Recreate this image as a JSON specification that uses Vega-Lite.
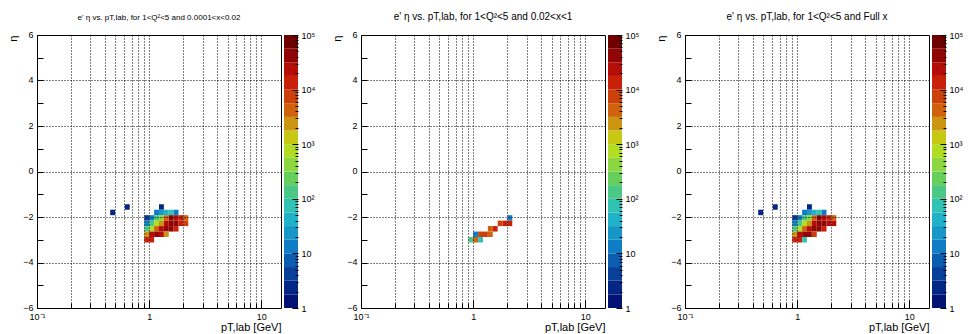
{
  "$schema": "https://vega.github.io/schema/vega-lite/v6.json",
  "background": "white",
  "padding": {"left": 7, "top": 11, "right": 0, "bottom": 0},
  "config": {
    "font": "Liberation Sans",
    "view": {"stroke": "black", "strokeWidth": 1},
    "title": {"font": "Liberation Sans", "fontWeight": "normal", "color": "black", "anchor": "middle", "offset": 8},
    "axis": {"labelFont": "Liberation Sans", "titleFont": "Liberation Sans", "labelColor": "black", "titleColor": "black", "tickColor": "black", "domain": false, "labelFontSize": 9, "titleFontWeight": "normal"}
  },
  "datasets": {
    "cells": [
      {"p":1,"x0":0.4496,"x1":0.4969,"y0":-1.92,"y1":-1.68,"n":2},
      {"p":1,"x0":0.6073,"x1":0.6713,"y0":-1.68,"y1":-1.44,"n":2},
      {"p":1,"x0":1.2247,"x1":1.3539,"y0":-1.68,"y1":-1.44,"n":2},
      {"p":1,"x0":1.1079,"x1":1.2247,"y0":-1.92,"y1":-1.68,"n":14},
      {"p":1,"x0":1.2247,"x1":1.3539,"y0":-1.92,"y1":-1.68,"n":22},
      {"p":1,"x0":1.3539,"x1":1.4966,"y0":-1.92,"y1":-1.68,"n":45},
      {"p":1,"x0":1.4966,"x1":1.6543,"y0":-1.92,"y1":-1.68,"n":70},
      {"p":1,"x0":1.6543,"x1":1.8287,"y0":-1.92,"y1":-1.68,"n":14},
      {"p":1,"x0":0.9067,"x1":1.0023,"y0":-2.16,"y1":-1.92,"n":4},
      {"p":1,"x0":1.0023,"x1":1.1079,"y0":-2.16,"y1":-1.92,"n":12},
      {"p":1,"x0":1.1079,"x1":1.2247,"y0":-2.16,"y1":-1.92,"n":150},
      {"p":1,"x0":1.2247,"x1":1.3539,"y0":-2.16,"y1":-1.92,"n":400},
      {"p":1,"x0":1.3539,"x1":1.4966,"y0":-2.16,"y1":-1.92,"n":4000},
      {"p":1,"x0":1.4966,"x1":1.6543,"y0":-2.16,"y1":-1.92,"n":40000},
      {"p":1,"x0":1.6543,"x1":1.8287,"y0":-2.16,"y1":-1.92,"n":20000},
      {"p":1,"x0":1.8287,"x1":2.0215,"y0":-2.16,"y1":-1.92,"n":12000},
      {"p":1,"x0":2.0215,"x1":2.2345,"y0":-2.16,"y1":-1.92,"n":5000},
      {"p":1,"x0":0.9067,"x1":1.0023,"y0":-2.40,"y1":-2.16,"n":15},
      {"p":1,"x0":1.0023,"x1":1.1079,"y0":-2.40,"y1":-2.16,"n":150},
      {"p":1,"x0":1.1079,"x1":1.2247,"y0":-2.40,"y1":-2.16,"n":600},
      {"p":1,"x0":1.2247,"x1":1.3539,"y0":-2.40,"y1":-2.16,"n":2500},
      {"p":1,"x0":1.3539,"x1":1.4966,"y0":-2.40,"y1":-2.16,"n":20000},
      {"p":1,"x0":1.4966,"x1":1.6543,"y0":-2.40,"y1":-2.16,"n":50000},
      {"p":1,"x0":1.6543,"x1":1.8287,"y0":-2.40,"y1":-2.16,"n":40000},
      {"p":1,"x0":1.8287,"x1":2.0215,"y0":-2.40,"y1":-2.16,"n":15000},
      {"p":1,"x0":2.0215,"x1":2.2345,"y0":-2.40,"y1":-2.16,"n":6000},
      {"p":1,"x0":0.9067,"x1":1.0023,"y0":-2.64,"y1":-2.40,"n":100},
      {"p":1,"x0":1.0023,"x1":1.1079,"y0":-2.64,"y1":-2.40,"n":800},
      {"p":1,"x0":1.1079,"x1":1.2247,"y0":-2.64,"y1":-2.40,"n":4000},
      {"p":1,"x0":1.2247,"x1":1.3539,"y0":-2.64,"y1":-2.40,"n":30000},
      {"p":1,"x0":1.3539,"x1":1.4966,"y0":-2.64,"y1":-2.40,"n":50000},
      {"p":1,"x0":1.4966,"x1":1.6543,"y0":-2.64,"y1":-2.40,"n":40000},
      {"p":1,"x0":1.6543,"x1":1.8287,"y0":-2.64,"y1":-2.40,"n":12000},
      {"p":1,"x0":0.9067,"x1":1.0023,"y0":-2.88,"y1":-2.64,"n":2500},
      {"p":1,"x0":1.0023,"x1":1.1079,"y0":-2.88,"y1":-2.64,"n":30000},
      {"p":1,"x0":1.1079,"x1":1.2247,"y0":-2.88,"y1":-2.64,"n":40000},
      {"p":1,"x0":1.2247,"x1":1.3539,"y0":-2.88,"y1":-2.64,"n":30000},
      {"p":1,"x0":1.3539,"x1":1.4966,"y0":-2.88,"y1":-2.64,"n":2500},
      {"p":1,"x0":0.9067,"x1":1.0023,"y0":-3.12,"y1":-2.88,"n":12000},
      {"p":1,"x0":1.0023,"x1":1.1079,"y0":-3.12,"y1":-2.88,"n":10000},

      {"p":2,"x0":2.0215,"x1":2.2345,"y0":-2.16,"y1":-1.92,"n":15},
      {"p":2,"x0":1.6543,"x1":1.8287,"y0":-2.40,"y1":-2.16,"n":7000},
      {"p":2,"x0":1.8287,"x1":2.0215,"y0":-2.40,"y1":-2.16,"n":15000},
      {"p":2,"x0":2.0215,"x1":2.2345,"y0":-2.40,"y1":-2.16,"n":12000},
      {"p":2,"x0":1.3539,"x1":1.4966,"y0":-2.64,"y1":-2.40,"n":5000},
      {"p":2,"x0":1.4966,"x1":1.6543,"y0":-2.64,"y1":-2.40,"n":12000},
      {"p":2,"x0":1.0023,"x1":1.1079,"y0":-2.88,"y1":-2.64,"n":15},
      {"p":2,"x0":1.1079,"x1":1.2247,"y0":-2.88,"y1":-2.64,"n":6000},
      {"p":2,"x0":1.2247,"x1":1.3539,"y0":-2.88,"y1":-2.64,"n":6000},
      {"p":2,"x0":1.3539,"x1":1.4966,"y0":-2.88,"y1":-2.64,"n":3500},
      {"p":2,"x0":0.9067,"x1":1.0023,"y0":-3.12,"y1":-2.88,"n":150},
      {"p":2,"x0":1.0023,"x1":1.1079,"y0":-3.12,"y1":-2.88,"n":3500},
      {"p":2,"x0":1.1079,"x1":1.2247,"y0":-3.12,"y1":-2.88,"n":60},

      {"p":3,"x0":0.4496,"x1":0.4969,"y0":-1.92,"y1":-1.68,"n":2},
      {"p":3,"x0":0.6073,"x1":0.6713,"y0":-1.68,"y1":-1.44,"n":2},
      {"p":3,"x0":1.2247,"x1":1.3539,"y0":-1.68,"y1":-1.44,"n":2},
      {"p":3,"x0":1.1079,"x1":1.2247,"y0":-1.92,"y1":-1.68,"n":14},
      {"p":3,"x0":1.2247,"x1":1.3539,"y0":-1.92,"y1":-1.68,"n":22},
      {"p":3,"x0":1.3539,"x1":1.4966,"y0":-1.92,"y1":-1.68,"n":45},
      {"p":3,"x0":1.4966,"x1":1.6543,"y0":-1.92,"y1":-1.68,"n":70},
      {"p":3,"x0":1.6543,"x1":1.8287,"y0":-1.92,"y1":-1.68,"n":14},
      {"p":3,"x0":0.9067,"x1":1.0023,"y0":-2.16,"y1":-1.92,"n":4},
      {"p":3,"x0":1.0023,"x1":1.1079,"y0":-2.16,"y1":-1.92,"n":12},
      {"p":3,"x0":1.1079,"x1":1.2247,"y0":-2.16,"y1":-1.92,"n":150},
      {"p":3,"x0":1.2247,"x1":1.3539,"y0":-2.16,"y1":-1.92,"n":400},
      {"p":3,"x0":1.3539,"x1":1.4966,"y0":-2.16,"y1":-1.92,"n":4000},
      {"p":3,"x0":1.4966,"x1":1.6543,"y0":-2.16,"y1":-1.92,"n":40000},
      {"p":3,"x0":1.6543,"x1":1.8287,"y0":-2.16,"y1":-1.92,"n":20000},
      {"p":3,"x0":1.8287,"x1":2.0215,"y0":-2.16,"y1":-1.92,"n":12000},
      {"p":3,"x0":2.0215,"x1":2.2345,"y0":-2.16,"y1":-1.92,"n":5015},
      {"p":3,"x0":0.9067,"x1":1.0023,"y0":-2.40,"y1":-2.16,"n":15},
      {"p":3,"x0":1.0023,"x1":1.1079,"y0":-2.40,"y1":-2.16,"n":150},
      {"p":3,"x0":1.1079,"x1":1.2247,"y0":-2.40,"y1":-2.16,"n":600},
      {"p":3,"x0":1.2247,"x1":1.3539,"y0":-2.40,"y1":-2.16,"n":2500},
      {"p":3,"x0":1.3539,"x1":1.4966,"y0":-2.40,"y1":-2.16,"n":20000},
      {"p":3,"x0":1.4966,"x1":1.6543,"y0":-2.40,"y1":-2.16,"n":50000},
      {"p":3,"x0":1.6543,"x1":1.8287,"y0":-2.40,"y1":-2.16,"n":47000},
      {"p":3,"x0":1.8287,"x1":2.0215,"y0":-2.40,"y1":-2.16,"n":30000},
      {"p":3,"x0":2.0215,"x1":2.2345,"y0":-2.40,"y1":-2.16,"n":18000},
      {"p":3,"x0":0.9067,"x1":1.0023,"y0":-2.64,"y1":-2.40,"n":100},
      {"p":3,"x0":1.0023,"x1":1.1079,"y0":-2.64,"y1":-2.40,"n":800},
      {"p":3,"x0":1.1079,"x1":1.2247,"y0":-2.64,"y1":-2.40,"n":4000},
      {"p":3,"x0":1.2247,"x1":1.3539,"y0":-2.64,"y1":-2.40,"n":30000},
      {"p":3,"x0":1.3539,"x1":1.4966,"y0":-2.64,"y1":-2.40,"n":55000},
      {"p":3,"x0":1.4966,"x1":1.6543,"y0":-2.64,"y1":-2.40,"n":52000},
      {"p":3,"x0":1.6543,"x1":1.8287,"y0":-2.64,"y1":-2.40,"n":12000},
      {"p":3,"x0":0.9067,"x1":1.0023,"y0":-2.88,"y1":-2.64,"n":2500},
      {"p":3,"x0":1.0023,"x1":1.1079,"y0":-2.88,"y1":-2.64,"n":30015},
      {"p":3,"x0":1.1079,"x1":1.2247,"y0":-2.88,"y1":-2.64,"n":46000},
      {"p":3,"x0":1.2247,"x1":1.3539,"y0":-2.88,"y1":-2.64,"n":36000},
      {"p":3,"x0":1.3539,"x1":1.4966,"y0":-2.88,"y1":-2.64,"n":6000},
      {"p":3,"x0":0.9067,"x1":1.0023,"y0":-3.12,"y1":-2.88,"n":12150},
      {"p":3,"x0":1.0023,"x1":1.1079,"y0":-3.12,"y1":-2.88,"n":13500},
      {"p":3,"x0":1.1079,"x1":1.2247,"y0":-3.12,"y1":-2.88,"n":60}
    ],
    "bands": [
      {"lo":1,"hi":1.7783,"mid":1.3335},
      {"lo":1.7783,"hi":3.1623,"mid":2.3714},
      {"lo":3.1623,"hi":5.6234,"mid":4.217},
      {"lo":5.6234,"hi":10,"mid":7.4989},
      {"lo":10,"hi":17.783,"mid":13.335},
      {"lo":17.783,"hi":31.623,"mid":23.714},
      {"lo":31.623,"hi":56.234,"mid":42.17},
      {"lo":56.234,"hi":100,"mid":74.989},
      {"lo":100,"hi":177.83,"mid":133.35},
      {"lo":177.83,"hi":316.23,"mid":237.14},
      {"lo":316.23,"hi":562.34,"mid":421.7},
      {"lo":562.34,"hi":1000,"mid":749.89},
      {"lo":1000,"hi":1778.3,"mid":1333.5},
      {"lo":1778.3,"hi":3162.3,"mid":2371.4},
      {"lo":3162.3,"hi":5623.4,"mid":4217},
      {"lo":5623.4,"hi":10000,"mid":7498.9},
      {"lo":10000,"hi":17783,"mid":13335},
      {"lo":17783,"hi":31623,"mid":23714},
      {"lo":31623,"hi":56234,"mid":42170},
      {"lo":56234,"hi":100000,"mid":74989}
    ]
  },
  "spacing": 16,
  "hconcat": [
    {
      "spacing": 2,
      "hconcat": [
        {
          "width": 244, "height": 273,
          "title": {"text": "e' η vs. pT,lab, for 1<Q²<5 and 0.0001<x<0.02", "fontSize": 8},
          "data": {"name": "cells"},
          "transform": [{"filter": "datum.p == 1"}],
          "mark": {"type": "rect"},
          "encoding": {
            "x": {"field": "x0", "type": "quantitative", "scale": {"type": "log", "domain": [0.1, 15], "nice": false},
              "axis": {"values": [0.1,0.2,0.3,0.4,0.5,0.6,0.7,0.8,0.9,1,2,3,4,5,6,7,8,9,10],
                "labelExpr": "datum.value == 0.1 ? '10⁻¹' : datum.value == 1 ? '1' : datum.value == 10 ? '10' : ''",
                "labelOverlap": false, "labelFlush": false, "labelPadding": 12,
                "tickSize": {"condition": {"test": "datum.value == 0.1 || datum.value == 1 || datum.value == 10", "value": -8}, "value": -5},
                "grid": true, "gridColor": "black", "gridDash": [1, 2],
                "gridOpacity": {"condition": {"test": "datum.value == 0.1", "value": 0}, "value": 1},
                "zindex": 1,
                "title": "pT,lab [GeV]", "titleAnchor": "end", "titleFontSize": 11, "titlePadding": -3}},
            "x2": {"field": "x1"},
            "y": {"field": "y0", "type": "quantitative", "scale": {"domain": [-6, 6], "nice": false},
              "axis": {"values": [-6,-5.5,-5,-4.5,-4,-3.5,-3,-2.5,-2,-1.5,-1,-0.5,0,0.5,1,1.5,2,2.5,3,3.5,4,4.5,5,5.5,6],
                "format": "d",
                "labelExpr": "datum.value % 2 == 0 ? datum.label : ''",
                "labelOverlap": false, "labelFlush": false, "labelPadding": 10, "labelOffset": -1,
                "tickSize": -6,
                "grid": true, "gridColor": "black", "gridDash": [1, 2],
                "gridOpacity": {"condition": {"test": "datum.value % 2 == 0 && abs(datum.value) < 6", "value": 1}, "value": 0},
                "zindex": 1,
                "title": "η", "titleAnchor": "end", "titleFontSize": 11, "titlePadding": 4}},
            "y2": {"field": "y1"},
            "color": {"field": "n", "type": "quantitative",
              "scale": {"type": "threshold",
                "domain": [1.7783,3.1623,5.6234,10,17.783,31.623,56.234,100,177.83,316.23,562.34,1000,1778.3,3162.3,5623.4,10000,17783,31623,56234],
                "range": ["#021374","#042685","#073f99","#0b5eaf","#0f7cc6","#1797c7","#1fb2c8","#30c3b3","#4bc886","#66ce5a","#8cd63f","#b1de24","#c6c814","#cb9511","#d0610d","#cc410b","#c92009","#b50d07","#910604","#6e0002"]},
              "legend": null}
          }
        },
        {
          "width": 14, "height": 273,
          "view": {"stroke": null},
          "data": {"name": "bands"},
          "mark": {"type": "rect"},
          "encoding": {
            "x": {"datum": 0, "type": "quantitative", "scale": {"domain": [0, 1]}, "axis": null},
            "x2": {"datum": 1},
            "y": {"field": "lo", "type": "quantitative", "scale": {"type": "log", "domain": [1, 100000], "nice": false},
              "axis": {"orient": "right", "title": null, "grid": false,
                "values": [1,2,3,4,5,6,7,8,9,10,20,30,40,50,60,70,80,90,100,200,300,400,500,600,700,800,900,1000,2000,3000,4000,5000,6000,7000,8000,9000,10000,20000,30000,40000,50000,60000,70000,80000,90000,100000],
                "labelExpr": "datum.value == 1 ? '1' : datum.value == 10 ? '10' : datum.value == 100 ? '10²' : datum.value == 1000 ? '10³' : datum.value == 10000 ? '10⁴' : datum.value == 100000 ? '10⁵' : ''",
                "labelOverlap": false, "labelFlush": false, "labelPadding": 9,
                "tickSize": {"condition": {"test": "datum.value == 1 || datum.value == 10 || datum.value == 100 || datum.value == 1000 || datum.value == 10000 || datum.value == 100000", "value": -6}, "value": -3},
                "zindex": 1}},
            "y2": {"field": "hi"},
            "color": {"field": "mid", "type": "quantitative",
              "scale": {"type": "threshold",
                "domain": [1.7783,3.1623,5.6234,10,17.783,31.623,56.234,100,177.83,316.23,562.34,1000,1778.3,3162.3,5623.4,10000,17783,31623,56234],
                "range": ["#021374","#042685","#073f99","#0b5eaf","#0f7cc6","#1797c7","#1fb2c8","#30c3b3","#4bc886","#66ce5a","#8cd63f","#b1de24","#c6c814","#cb9511","#d0610d","#cc410b","#c92009","#b50d07","#910604","#6e0002"]},
              "legend": null}
          }
        }
      ]
    },
    {
      "spacing": 2,
      "hconcat": [
        {
          "width": 244, "height": 273,
          "title": {"text": "e' η vs. pT,lab, for 1<Q²<5 and 0.02<x<1", "fontSize": 10},
          "data": {"name": "cells"},
          "transform": [{"filter": "datum.p == 2"}],
          "mark": {"type": "rect"},
          "encoding": {
            "x": {"field": "x0", "type": "quantitative", "scale": {"type": "log", "domain": [0.1, 15], "nice": false},
              "axis": {"values": [0.1,0.2,0.3,0.4,0.5,0.6,0.7,0.8,0.9,1,2,3,4,5,6,7,8,9,10],
                "labelExpr": "datum.value == 0.1 ? '10⁻¹' : datum.value == 1 ? '1' : datum.value == 10 ? '10' : ''",
                "labelOverlap": false, "labelFlush": false, "labelPadding": 12,
                "tickSize": {"condition": {"test": "datum.value == 0.1 || datum.value == 1 || datum.value == 10", "value": -8}, "value": -5},
                "grid": true, "gridColor": "black", "gridDash": [1, 2],
                "gridOpacity": {"condition": {"test": "datum.value == 0.1", "value": 0}, "value": 1},
                "zindex": 1,
                "title": "pT,lab [GeV]", "titleAnchor": "end", "titleFontSize": 11, "titlePadding": -3}},
            "x2": {"field": "x1"},
            "y": {"field": "y0", "type": "quantitative", "scale": {"domain": [-6, 6], "nice": false},
              "axis": {"values": [-6,-5.5,-5,-4.5,-4,-3.5,-3,-2.5,-2,-1.5,-1,-0.5,0,0.5,1,1.5,2,2.5,3,3.5,4,4.5,5,5.5,6],
                "format": "d",
                "labelExpr": "datum.value % 2 == 0 ? datum.label : ''",
                "labelOverlap": false, "labelFlush": false, "labelPadding": 10, "labelOffset": -1,
                "tickSize": -6,
                "grid": true, "gridColor": "black", "gridDash": [1, 2],
                "gridOpacity": {"condition": {"test": "datum.value % 2 == 0 && abs(datum.value) < 6", "value": 1}, "value": 0},
                "zindex": 1,
                "title": "η", "titleAnchor": "end", "titleFontSize": 11, "titlePadding": 4}},
            "y2": {"field": "y1"},
            "color": {"field": "n", "type": "quantitative",
              "scale": {"type": "threshold",
                "domain": [1.7783,3.1623,5.6234,10,17.783,31.623,56.234,100,177.83,316.23,562.34,1000,1778.3,3162.3,5623.4,10000,17783,31623,56234],
                "range": ["#021374","#042685","#073f99","#0b5eaf","#0f7cc6","#1797c7","#1fb2c8","#30c3b3","#4bc886","#66ce5a","#8cd63f","#b1de24","#c6c814","#cb9511","#d0610d","#cc410b","#c92009","#b50d07","#910604","#6e0002"]},
              "legend": null}
          }
        },
        {
          "width": 14, "height": 273,
          "view": {"stroke": null},
          "data": {"name": "bands"},
          "mark": {"type": "rect"},
          "encoding": {
            "x": {"datum": 0, "type": "quantitative", "scale": {"domain": [0, 1]}, "axis": null},
            "x2": {"datum": 1},
            "y": {"field": "lo", "type": "quantitative", "scale": {"type": "log", "domain": [1, 100000], "nice": false},
              "axis": {"orient": "right", "title": null, "grid": false,
                "values": [1,2,3,4,5,6,7,8,9,10,20,30,40,50,60,70,80,90,100,200,300,400,500,600,700,800,900,1000,2000,3000,4000,5000,6000,7000,8000,9000,10000,20000,30000,40000,50000,60000,70000,80000,90000,100000],
                "labelExpr": "datum.value == 1 ? '1' : datum.value == 10 ? '10' : datum.value == 100 ? '10²' : datum.value == 1000 ? '10³' : datum.value == 10000 ? '10⁴' : datum.value == 100000 ? '10⁵' : ''",
                "labelOverlap": false, "labelFlush": false, "labelPadding": 9,
                "tickSize": {"condition": {"test": "datum.value == 1 || datum.value == 10 || datum.value == 100 || datum.value == 1000 || datum.value == 10000 || datum.value == 100000", "value": -6}, "value": -3},
                "zindex": 1}},
            "y2": {"field": "hi"},
            "color": {"field": "mid", "type": "quantitative",
              "scale": {"type": "threshold",
                "domain": [1.7783,3.1623,5.6234,10,17.783,31.623,56.234,100,177.83,316.23,562.34,1000,1778.3,3162.3,5623.4,10000,17783,31623,56234],
                "range": ["#021374","#042685","#073f99","#0b5eaf","#0f7cc6","#1797c7","#1fb2c8","#30c3b3","#4bc886","#66ce5a","#8cd63f","#b1de24","#c6c814","#cb9511","#d0610d","#cc410b","#c92009","#b50d07","#910604","#6e0002"]},
              "legend": null}
          }
        }
      ]
    },
    {
      "spacing": 2,
      "hconcat": [
        {
          "width": 244, "height": 273,
          "title": {"text": "e' η vs. pT,lab, for 1<Q²<5 and Full x", "fontSize": 10},
          "data": {"name": "cells"},
          "transform": [{"filter": "datum.p == 3"}],
          "mark": {"type": "rect"},
          "encoding": {
            "x": {"field": "x0", "type": "quantitative", "scale": {"type": "log", "domain": [0.1, 15], "nice": false},
              "axis": {"values": [0.1,0.2,0.3,0.4,0.5,0.6,0.7,0.8,0.9,1,2,3,4,5,6,7,8,9,10],
                "labelExpr": "datum.value == 0.1 ? '10⁻¹' : datum.value == 1 ? '1' : datum.value == 10 ? '10' : ''",
                "labelOverlap": false, "labelFlush": false, "labelPadding": 12,
                "tickSize": {"condition": {"test": "datum.value == 0.1 || datum.value == 1 || datum.value == 10", "value": -8}, "value": -5},
                "grid": true, "gridColor": "black", "gridDash": [1, 2],
                "gridOpacity": {"condition": {"test": "datum.value == 0.1", "value": 0}, "value": 1},
                "zindex": 1,
                "title": "pT,lab [GeV]", "titleAnchor": "end", "titleFontSize": 11, "titlePadding": -3}},
            "x2": {"field": "x1"},
            "y": {"field": "y0", "type": "quantitative", "scale": {"domain": [-6, 6], "nice": false},
              "axis": {"values": [-6,-5.5,-5,-4.5,-4,-3.5,-3,-2.5,-2,-1.5,-1,-0.5,0,0.5,1,1.5,2,2.5,3,3.5,4,4.5,5,5.5,6],
                "format": "d",
                "labelExpr": "datum.value % 2 == 0 ? datum.label : ''",
                "labelOverlap": false, "labelFlush": false, "labelPadding": 10, "labelOffset": -1,
                "tickSize": -6,
                "grid": true, "gridColor": "black", "gridDash": [1, 2],
                "gridOpacity": {"condition": {"test": "datum.value % 2 == 0 && abs(datum.value) < 6", "value": 1}, "value": 0},
                "zindex": 1,
                "title": "η", "titleAnchor": "end", "titleFontSize": 11, "titlePadding": 4}},
            "y2": {"field": "y1"},
            "color": {"field": "n", "type": "quantitative",
              "scale": {"type": "threshold",
                "domain": [1.7783,3.1623,5.6234,10,17.783,31.623,56.234,100,177.83,316.23,562.34,1000,1778.3,3162.3,5623.4,10000,17783,31623,56234],
                "range": ["#021374","#042685","#073f99","#0b5eaf","#0f7cc6","#1797c7","#1fb2c8","#30c3b3","#4bc886","#66ce5a","#8cd63f","#b1de24","#c6c814","#cb9511","#d0610d","#cc410b","#c92009","#b50d07","#910604","#6e0002"]},
              "legend": null}
          }
        },
        {
          "width": 14, "height": 273,
          "view": {"stroke": null},
          "data": {"name": "bands"},
          "mark": {"type": "rect"},
          "encoding": {
            "x": {"datum": 0, "type": "quantitative", "scale": {"domain": [0, 1]}, "axis": null},
            "x2": {"datum": 1},
            "y": {"field": "lo", "type": "quantitative", "scale": {"type": "log", "domain": [1, 100000], "nice": false},
              "axis": {"orient": "right", "title": null, "grid": false,
                "values": [1,2,3,4,5,6,7,8,9,10,20,30,40,50,60,70,80,90,100,200,300,400,500,600,700,800,900,1000,2000,3000,4000,5000,6000,7000,8000,9000,10000,20000,30000,40000,50000,60000,70000,80000,90000,100000],
                "labelExpr": "datum.value == 1 ? '1' : datum.value == 10 ? '10' : datum.value == 100 ? '10²' : datum.value == 1000 ? '10³' : datum.value == 10000 ? '10⁴' : datum.value == 100000 ? '10⁵' : ''",
                "labelOverlap": false, "labelFlush": false, "labelPadding": 9,
                "tickSize": {"condition": {"test": "datum.value == 1 || datum.value == 10 || datum.value == 100 || datum.value == 1000 || datum.value == 10000 || datum.value == 100000", "value": -6}, "value": -3},
                "zindex": 1}},
            "y2": {"field": "hi"},
            "color": {"field": "mid", "type": "quantitative",
              "scale": {"type": "threshold",
                "domain": [1.7783,3.1623,5.6234,10,17.783,31.623,56.234,100,177.83,316.23,562.34,1000,1778.3,3162.3,5623.4,10000,17783,31623,56234],
                "range": ["#021374","#042685","#073f99","#0b5eaf","#0f7cc6","#1797c7","#1fb2c8","#30c3b3","#4bc886","#66ce5a","#8cd63f","#b1de24","#c6c814","#cb9511","#d0610d","#cc410b","#c92009","#b50d07","#910604","#6e0002"]},
              "legend": null}
          }
        }
      ]
    }
  ]
}
